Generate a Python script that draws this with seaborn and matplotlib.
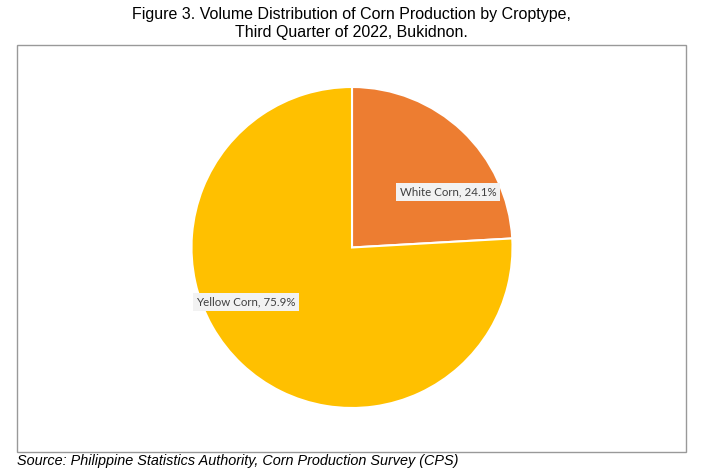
import matplotlib.pyplot as plt
import seaborn as sns
from matplotlib.patches import Rectangle

# Data
crop_types = ["White Corn", "Yellow Corn"]
shares = [24.1, 75.9]
colors = ["#ED7D31", "#FFC000"]

sns.set_theme(style="white")
plt.rcParams['font.family'] = ['Liberation Sans', 'DejaVu Sans']

W, H = 702, 476
fig = plt.figure(figsize=(W / 100, H / 100), dpi=100)

# outer frame around the plot area
fig.patches.append(Rectangle((17 / W, (H - 452) / H), 669 / W, 407 / H,
                             transform=fig.transFigure, fill=False,
                             edgecolor="#999999", linewidth=1.0))

# square axes holding the pie
cx, cy, r = 352, 247.5, 160.5
ax = fig.add_axes([(cx - r) / W, (H - cy - r) / H, 2 * r / W, 2 * r / H])
ax.pie(shares, colors=colors, startangle=90, counterclock=False, radius=1,
       wedgeprops=dict(edgecolor="white", linewidth=1.5))
ax.set_xlim(-1.0, 1.0)
ax.set_ylim(-1.0, 1.0)
ax.axis("off")

# labels placed inside the slices
label_pos = [(0.598, 0.346), (-0.660, -0.340)]
for name, val, (lx, ly) in zip(crop_types, shares, label_pos):
    ax.text(lx, ly, f"{name}, {val}%", ha="center", va="center",
            fontsize=8.3, color="#404040", family=["Lato", "DejaVu Sans"],
            bbox=dict(boxstyle="square,pad=0.3", facecolor="#F2F2F2",
                      edgecolor="none"))

fig.text(0.5, (H - 14) / H, "Figure 3. Volume Distribution of Corn Production by Croptype,",
         ha="center", va="center", fontsize=11.5, color="black")
fig.text(0.5, (H - 33) / H, "Third Quarter of 2022, Bukidnon.",
         ha="center", va="center", fontsize=11.5, color="black")
fig.text(17 / W, (H - 461) / H,
         "Source: Philippine Statistics Authority, Corn Production Survey (CPS)",
         ha="left", va="center", fontsize=10.4, style="italic", color="black")

fig.savefig("out.png", dpi=100)
